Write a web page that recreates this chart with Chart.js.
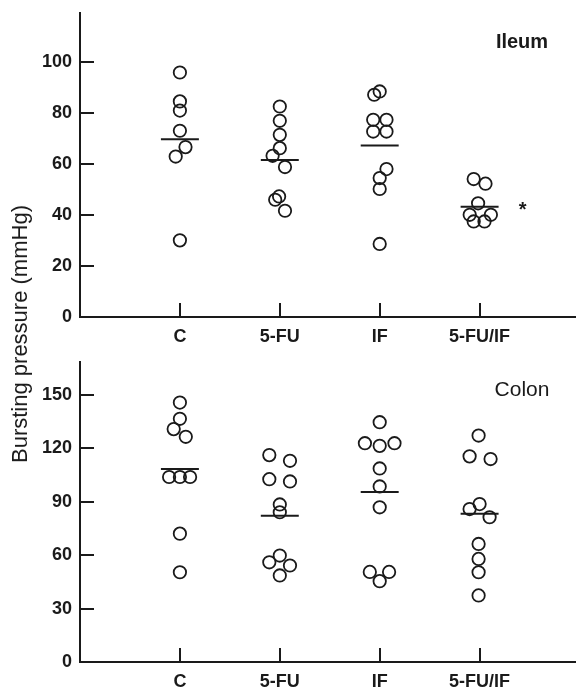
<!DOCTYPE html>
<html>
<head>
<meta charset="utf-8">
<script src="https://cdn.jsdelivr.net/npm/chart.js@4.4.0/dist/chart.umd.min.js"></script>
<style>
  html, body { margin: 0; padding: 0; background: #fff; }
  #wrap { position: relative; width: 583px; height: 690px; overflow: hidden; }
  .panel { position: absolute; left: 0; width: 583px; height: 345px; }
  #y-title {
    position: absolute; left: 20px; top: 334px;
    transform: translate(-50%, -50%) rotate(-90deg);
    font: 22px "Liberation Sans", Arial, sans-serif;
    color: #1a1a1a; white-space: nowrap;
  }
</style>
</head>
<body>
<div id="wrap">
  <div class="panel" style="top:0"><canvas id="ileum-chart" width="583" height="345"></canvas></div>
  <div class="panel" style="top:345px"><canvas id="colon-chart" width="583" height="345"></canvas></div>
  <div id="y-title">Bursting pressure (mmHg)</div>
</div>
<script>
const groups = ['C', '5-FU', 'IF', '5-FU/IF']

// Ileum (mmHg), one array per group, plus small horizontal spread (category units)
const ileumTicks = [0, 20, 40, 60, 80, 100]
const ileumC = [95.7, 84.4, 80.8, 72.9, 66.5, 62.8, 30.0]
const ileumCJitter = [0, 0, 0, 0, 0.056, -0.042, 0]
const ileumFU = [82.4, 76.8, 71.3, 66.1, 63.1, 58.7, 47.2, 45.9, 41.6]
const ileumFUJitter = [0, 0, 0, 0, -0.072, 0.052, -0.007, -0.046, 0.052]
const ileumIF = [88.3, 87.0, 77.2, 77.2, 72.6, 72.6, 57.9, 54.4, 50.1, 28.6]
const ileumIFJitter = [0, -0.055, -0.065, 0.068, -0.065, 0.068, 0.068, 0, 0, 0]
const ileumFUIF = [54.0, 52.2, 44.5, 40.0, 40.0, 37.4, 37.4]
const ileumFUIFJitter = [-0.059, 0.059, -0.015, -0.099, 0.113, -0.059, 0.049]
const ileumMeans = [69.6, 61.5, 67.1, 43.2]

// Colon (mmHg)
const colonTicks = [0, 30, 60, 90, 120, 150]
const colonC = [145.7, 136.6, 130.8, 126.5, 103.9, 103.9, 103.9, 72.1, 50.4]
const colonCJitter = [0, 0, -0.062, 0.059, -0.108, 0, 0.102, 0, 0]
const colonFU = [116.2, 113.0, 102.7, 101.4, 88.5, 84.1, 59.8, 56.0, 54.2, 48.6]
const colonFUJitter = [-0.105, 0.102, -0.105, 0.102, 0, 0, 0, -0.105, 0.102, 0]
const colonIF = [134.7, 122.9, 121.4, 122.9, 108.7, 98.6, 86.9, 50.6, 50.6, 45.4]
const colonIFJitter = [0, -0.148, 0, 0.148, 0, 0, 0, -0.099, 0.094, 0]
const colonFUIF = [127.2, 115.5, 114.0, 88.7, 85.9, 81.3, 66.3, 57.9, 50.4, 37.4]
const colonFUIFJitter = [-0.01, -0.1, 0.11, 0, -0.1, 0.1, -0.01, -0.01, -0.01, -0.01]
const colonMeans = [108.4, 82.2, 95.5, 83.3]

const INK = '#1a1a1a'
const FONT = '"Liberation Sans", Arial, sans-serif'

const panelText = {
  id: 'panelText',
  afterDraw(chart, args, o) {
    const ctx = chart.ctx
    ctx.save()
    ctx.fillStyle = INK
    ctx.textAlign = 'center'
    ctx.textBaseline = 'middle'
    ctx.font = o.font
    ctx.fillText(o.title, o.x, o.y)
    if (o.star) {
      ctx.font = 'bold 20px ' + FONT
      ctx.fillText('*', chart.scales.x.getPixelForValue(o.star[0]), chart.scales.y.getPixelForValue(o.star[1]) + 4)
    }
    ctx.restore()
  }
}

function makeChart(canvasId, series, jitters, means, yTicks, yMax, topPad, text) {
  const points = []
  series.forEach((vals, g) => {
    vals.forEach((v, i) => points.push({x: g + jitters[g][i], y: v}))
  })
  const datasets = [{
    data: points,
    pointRadius: 6.2,
    pointHoverRadius: 6.2,
    borderWidth: 1.8,
    borderColor: INK,
    backgroundColor: 'rgba(0,0,0,0)'
  }]
  means.forEach((m, g) => {
    datasets.push({
      data: [{x: g - 0.19, y: m}, {x: g + 0.19, y: m}],
      showLine: true,
      borderColor: INK,
      borderWidth: 2,
      pointRadius: 0,
      pointHoverRadius: 0
    })
  })

  const axisGrid = {drawOnChartArea: false, drawTicks: true, tickLength: -14, color: INK, lineWidth: 2}
  const axisBorder = {display: true, color: INK, width: 2}
  const tickFont = {family: FONT, size: 18, weight: 'bold'}
  const noPad = (s) => { s.paddingTop = 0; s.paddingBottom = 0; s.paddingLeft = 0; s.paddingRight = 0 }

  return new Chart(document.getElementById(canvasId), {
    type: 'scatter',
    data: {datasets},
    options: {
      responsive: false,
      animation: false,
      events: [],
      layout: {padding: {top: topPad, left: 0, right: 0, bottom: 0}},
      plugins: {
        legend: {display: false},
        tooltip: {enabled: false},
        panelText: text
      },
      scales: {
        x: {
          type: 'linear',
          min: -1,
          max: 3.955,
          afterBuildTicks: (s) => { s.ticks = groups.map((g, i) => ({value: i})) },
          afterFit: (s) => { s.height = 28; noPad(s) },
          ticks: {
            callback: (v) => groups[v],
            font: tickFont,
            color: INK,
            padding: 23.5,
            maxRotation: 0,
            autoSkip: false
          },
          grid: axisGrid,
          border: axisBorder
        },
        y: {
          min: 0,
          max: yMax,
          afterBuildTicks: (s) => { s.ticks = yTicks.map((v) => ({value: v})) },
          afterFit: (s) => { s.width = 80; noPad(s) },
          ticks: {font: tickFont, color: INK, padding: 22},
          grid: axisGrid,
          border: axisBorder
        }
      }
    },
    plugins: [panelText]
  })
}

makeChart('ileum-chart',
  [ileumC, ileumFU, ileumIF, ileumFUIF],
  [ileumCJitter, ileumFUJitter, ileumIFJitter, ileumFUIFJitter],
  ileumMeans, ileumTicks, 119, 13,
  {title: 'Ileum', font: 'bold 20px ' + FONT, x: 522, y: 42, star: [3.43, 43.2]})

makeChart('colon-chart',
  [colonC, colonFU, colonIF, colonFUIF],
  [colonCJitter, colonFUJitter, colonIFJitter, colonFUIFJitter],
  colonMeans, colonTicks, 168.5, 17,
  {title: 'Colon', font: '21px ' + FONT, x: 522, y: 45})
</script>
</body>
</html>
